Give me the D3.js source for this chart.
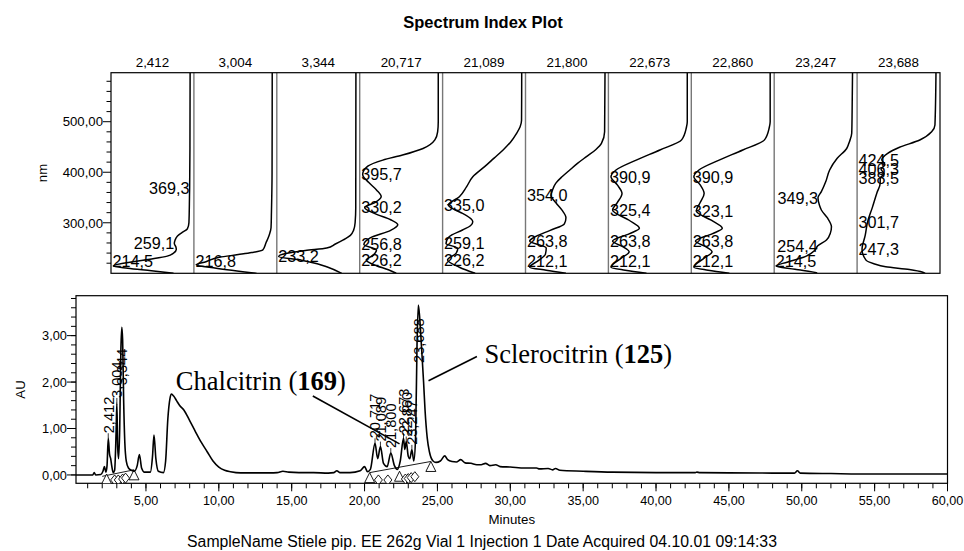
<!DOCTYPE html>
<html>
<head>
<meta charset="utf-8">
<script src="https://cdn.jsdelivr.net/npm/d3@7/dist/d3.min.js"></script>
<style>
  body { margin: 0; background: #fff; }
  svg { display: block; font-family: "Liberation Sans", Arial, sans-serif; }
</style>
</head>
<body>
<svg id="chart" width="964" height="551"></svg>
<script>
// ---------------- Spectrum index data (one spectrum per peak) ----------------
const panelTimes = ["2,412", "3,004", "3,344", "20,717", "21,089", "21,800", "22,673", "22,860", "23,247", "23,688"];

// each spectrum: [wavelength nm, relative absorbance 0..1]
const spec2412 = [[597,0.01],[450,0.012],[369.3,0.016],[350,0.018],[300,0.025],[288,0.045],[281,0.11],[274,0.17],[266,0.2],[259.1,0.21],[252,0.19],[247,0.185],[240,0.22],[234,0.3],[228,0.52],[221,0.82],[214.5,0.985],[210,0.8],[205,0.5],[200,0.22]];
const spec3004 = [[597,0.02],[400,0.022],[320,0.03],[290,0.035],[275,0.06],[260,0.1],[246,0.14],[241,0.28],[237,0.45],[231.7,0.69],[223,0.86],[216.8,0.985],[210,0.73],[200,0.22]];
const spec3344 = [[597,0.01],[330,0.012],[300,0.02],[285,0.04],[275,0.08],[266,0.17],[258,0.27],[250,0.38],[245,0.65],[239,0.9],[233.2,0.99],[226,0.7],[219,0.5],[213,0.38],[200,0.19]];
const spec20717 = [[597,0.017],[500,0.017],[480,0.025],[464,0.06],[447,0.21],[434,0.47],[424,0.72],[412,0.91],[395.7,0.975],[380,0.9],[365,0.8],[352,0.74],[340,0.82],[330.2,0.95],[318,0.82],[306,0.62],[296,0.53],[285,0.62],[270,0.88],[256.8,0.96],[246,0.8],[236,0.84],[226.2,0.93],[215,0.8],[207,0.65],[200,0.55]];
const spec21089 = [[597,0.01],[503,0.012],[490,0.03],[477,0.075],[460,0.15],[444,0.246],[428,0.36],[411,0.48],[391,0.63],[371,0.71],[351.6,0.8],[335.0,0.94],[325,0.85],[318.7,0.76],[302,0.63],[294,0.66],[285.7,0.76],[272.4,0.93],[259.1,0.97],[249.5,0.82],[240,0.84],[226.2,0.95],[212,0.8],[200,0.6]];
const spec21800 = [[597,0.005],[480,0.01],[457,0.05],[445,0.12],[431,0.24],[418,0.35],[404,0.455],[391,0.55],[378,0.63],[365,0.67],[354.0,0.69],[340,0.63],[325,0.55],[310,0.5],[298,0.52],[285,0.7],[273,0.88],[263.8,0.96],[250,0.75],[238,0.76],[225,0.85],[212.1,0.96],[206,0.75],[200,0.5]];
const spec22673 = [[597,0.013],[500,0.013],[488,0.025],[464,0.085],[444,0.36],[424,0.66],[404,0.92],[390.9,0.98],[375,0.9],[358,0.84],[340,0.9],[325.4,0.96],[305,0.75],[289,0.62],[278,0.75],[263.8,0.96],[252,0.82],[242.7,0.75],[230,0.85],[212.1,0.98],[206,0.8],[200,0.53]];
const spec22860 = [[597,0.013],[500,0.013],[488,0.025],[464,0.085],[444,0.36],[424,0.66],[404,0.92],[390.9,0.98],[375,0.9],[358,0.85],[340,0.9],[323.1,0.95],[305,0.76],[289,0.62],[278,0.75],[263.8,0.96],[252,0.82],[242.7,0.75],[230,0.85],[212.1,0.98],[206,0.8],[200,0.53]];
const spec23247 = [[597,0.02],[520,0.025],[477,0.03],[460,0.06],[447,0.094],[427.6,0.214],[404.4,0.31],[381,0.36],[361.5,0.415],[349.3,0.458],[335,0.44],[325.3,0.415],[310,0.34],[292,0.287],[280,0.3],[266,0.35],[254.4,0.46],[245,0.5],[233,0.62],[222,0.85],[214.5,0.99],[208,0.75],[201,0.48],[200,0.47]];
const spec23688 = [[597,0.013],[493.5,0.026],[480,0.068],[463.8,0.218],[449.4,0.475],[437.5,0.625],[424.5,0.7],[415,0.66],[406.3,0.71],[397,0.67],[388.5,0.72],[378,0.72],[360,0.76],[330,0.82],[301.7,0.88],[275,0.91],[247.3,0.95],[226,0.9],[219,0.8],[213,0.65],[207.5,0.35],[202,0.18],[200,0.15]];
const spectra = [spec2412, spec3004, spec3344, spec20717, spec21089, spec21800, spec22673, spec22860, spec23247, spec23688];

// labelled absorbance maxima of each spectrum (nm)
const spectrumMaxima = [
  [214.5, 259.1, 369.3],
  [216.8],
  [233.2],
  [226.2, 256.8, 330.2, 395.7],
  [226.2, 259.1, 335.0],
  [212.1, 263.8, 354.0],
  [212.1, 263.8, 325.4, 390.9],
  [212.1, 263.8, 323.1, 390.9],
  [214.5, 254.4, 349.3],
  [247.3, 301.7, 388.5, 406.3, 424.5]
];
const nmMajorTicks = [300, 400, 500];
const nmMinorTicks = [220, 240, 260, 280, 320, 340, 360, 380, 420, 440, 460, 480, 520, 540, 560, 580];

// ---------------- Chromatogram data ----------------
const chromTime = [0.2,1.0,1.35,1.45,1.55,1.9,2.05,2.15,2.25,2.33,2.412,2.5,2.58,2.65,2.75,2.85,2.95,3.004,3.06,3.12,3.2,3.28,3.344,3.40,3.47,3.55,3.65,3.8,4.0,4.2,4.4,4.55,4.7,4.9,5.3,5.45,5.55,5.68,5.85,6.2,6.35,6.5,6.65,6.75,6.9,7.1,7.3,7.6,8.0,8.4,8.8,9.2,9.6,10.0,10.4,10.8,11.5,12.5,13.5,14.0,14.4,14.8,15.5,16.5,17.5,17.9,18.1,18.3,19.0,19.7,20.0,20.2,20.4,20.717,20.9,21.089,21.3,21.55,21.8,22.05,22.25,22.45,22.673,22.76,22.86,23.0,23.1,23.247,23.38,23.5,23.6,23.688,23.78,23.9,24.05,24.15,24.3,24.45,24.7,24.9,25.2,25.5,25.7,26.0,26.3,26.6,26.9,27.3,27.7,28.0,28.3,28.6,29.0,29.3,30.0,31.0,31.8,32.0,32.6,32.9,33.1,33.4,35.0,37.0,40.0,42.7,42.8,43.0,45.0,48.0,49.5,49.7,49.9,52.0,55.0,60.0];
const chromAU   = [0.0,0.0,0.0,0.05,0.0,0.01,0.08,0.18,0.06,0.2,0.79,0.45,0.35,0.2,0.05,0.1,0.9,1.55,0.6,0.35,1.0,2.7,3.18,2.9,1.6,0.7,0.3,0.15,0.1,0.08,0.2,0.44,0.15,0.06,0.06,0.4,0.86,0.35,0.08,0.05,0.3,1.2,1.65,1.74,1.7,1.6,1.5,1.4,1.17,0.93,0.7,0.5,0.3,0.17,0.1,0.07,0.045,0.045,0.045,0.05,0.08,0.06,0.05,0.05,0.04,0.05,0.09,0.05,0.05,0.09,0.18,0.07,0.12,0.68,0.35,0.61,0.25,0.18,0.47,0.2,0.12,0.3,0.79,0.55,0.72,0.4,0.35,0.54,0.3,0.8,2.8,3.66,3.4,2.8,2.0,1.4,0.8,0.5,0.3,0.27,0.3,0.41,0.33,0.29,0.28,0.33,0.26,0.25,0.22,0.22,0.25,0.2,0.22,0.18,0.17,0.15,0.15,0.13,0.14,0.11,0.14,0.1,0.08,0.06,0.05,0.05,0.06,0.05,0.045,0.04,0.04,0.09,0.04,0.03,0.02,0.02];

const peakTimes = [2.412, 3.004, 3.344, 20.717, 21.089, 21.800, 22.673, 22.860, 23.247, 23.688];

// integration start/end marks and drop marks
const triangleMarks = [[2.3, 0.02], [4.18, 0.11], [20.35, 0.05], [22.4, 0.08], [24.55, 0.29]];
const diamondMarks = [[2.85, 0.0], [3.1, 0.0], [3.4, 0.02], [3.6, 0.04], [20.95, 0.0], [21.6, 0.0], [22.8, 0.02], [23.0, 0.03], [23.2, 0.05], [23.45, 0.07]];
const baselineSegments = [[[2.0, -0.03], [4.18, 0.11]], [[20.35, 0.05], [24.55, 0.29]]];

const auMajorTicks = [0, 1, 2, 3];
const minuteMajorTicks = [5, 10, 15, 20, 25, 30, 35, 40, 45, 50, 55, 60];

// compound annotations: text anchor, leader start, leader target (minutes, AU)
const annotations = [
  { name: "Chalcitrin", num: "169", at: [7.05, 1.83], from: [16.45, 1.70], to: [22.4, 0.67] },
  { name: "Sclerocitrin", num: "125", at: [28.23, 2.42], from: [27.71, 2.55], to: [24.39, 2.03] }
];

const footerText = "SampleName Stiele pip. EE 262g Vial 1 Injection 1 Date Acquired 04.10.01 09:14:33";

// ---------------- Drawing ----------------
const svg = d3.select("#chart");
const locale = d3.formatLocale({ decimal: ",", thousands: ".", grouping: [3], currency: ["", ""] });
const f2 = locale.format(".2f");

svg.append("text")
  .attr("x", 483).attr("y", 28)
  .attr("text-anchor", "middle")
  .attr("font-weight", "bold").attr("font-size", 16.5)
  .text("Spectrum Index Plot");

// ---- spectrum panels ----
const topBox = { left: 111, right: 940, top: 72.7, bottom: 273.3 };
const panelX = d3.scaleBand().domain(d3.range(panelTimes.length)).range([topBox.left, topBox.right]);
const nmY = d3.scaleLinear().domain([200, 597]).range([topBox.bottom, topBox.top]);
const bw = panelX.bandwidth();

// absorbance of a spectrum at a wavelength (linear between stored points)
function absAt(spec, nm) {
  for (let k = 0; k < spec.length - 1; k++) {
    const a = spec[k], b = spec[k + 1];
    if (nm <= a[0] && nm >= b[0]) {
      const f = a[0] === b[0] ? 0 : (a[0] - nm) / (a[0] - b[0]);
      return a[1] + f * (b[1] - a[1]);
    }
  }
  return spec[spec.length - 1][1];
}

const defs = svg.append("defs");
const specG = svg.append("g");

spectra.forEach((spec, i) => {
  const x0 = panelX(i);
  const absX = d3.scaleLinear().domain([0, 1]).range([x0 + bw - 3, x0 + 1]);
  defs.append("clipPath").attr("id", "pclip" + i)
    .append("rect").attr("x", x0).attr("y", topBox.top).attr("width", bw).attr("height", topBox.bottom - topBox.top);

  const g = specG.append("g");
  g.append("path")
    .datum(spec)
    .attr("clip-path", "url(#pclip" + i + ")")
    .attr("fill", "none").attr("stroke", "#000").attr("stroke-width", 1.5)
    .attr("d", d3.line().x(d => absX(d[1])).y(d => nmY(d[0])).curve(d3.curveMonotoneY));

  // panel retention time
  g.append("text")
    .attr("x", x0 + bw / 2).attr("y", 66.5)
    .attr("text-anchor", "middle").attr("font-size", 13.4)
    .text(panelTimes[i]);

  // labels of the absorbance maxima
  spectrumMaxima[i].forEach(nm => {
    const cx = absX(absAt(spec, nm));
    const cy = Math.min(nmY(nm), topBox.bottom - 12);
    const t = g.append("text")
      .attr("y", cy).attr("dy", "0.36em")
      .attr("font-size", 16.2)
      .text(locale.format(".1f")(nm));
    const w = t.node().getComputedTextLength();
    if (cx - w >= x0 + 2) t.attr("x", cx).attr("text-anchor", "end");
    else t.attr("x", x0 + 1.5).attr("text-anchor", "start");
  });

  // separator between panels
  if (i > 0) {
    specG.append("line")
      .attr("x1", x0).attr("x2", x0).attr("y1", topBox.top).attr("y2", topBox.bottom)
      .attr("stroke", "#777").attr("stroke-width", 1.4);
  }
});

specG.append("rect")
  .attr("x", topBox.left).attr("y", topBox.top)
  .attr("width", topBox.right - topBox.left).attr("height", topBox.bottom - topBox.top)
  .attr("fill", "none").attr("stroke", "#000").attr("stroke-width", 1.2);

// nm axis
const nmAxis = specG.append("g");
nmMinorTicks.forEach(v => {
  nmAxis.append("line").attr("x1", topBox.left - 4.5).attr("x2", topBox.left)
    .attr("y1", nmY(v)).attr("y2", nmY(v)).attr("stroke", "#000");
});
nmMajorTicks.forEach(v => {
  nmAxis.append("line").attr("x1", topBox.left - 8).attr("x2", topBox.left)
    .attr("y1", nmY(v)).attr("y2", nmY(v)).attr("stroke", "#000");
  nmAxis.append("text").attr("x", topBox.left - 8).attr("y", nmY(v)).attr("dy", "0.36em")
    .attr("text-anchor", "end").attr("font-size", 13.2).text(f2(v));
});
specG.append("text")
  .attr("transform", `translate(47,${(topBox.top + topBox.bottom) / 2}) rotate(-90)`)
  .attr("text-anchor", "middle").attr("font-size", 13.2).text("nm");

// ---- chromatogram ----
const box = { left: 76, right: 947.5, top: 295.7, bottom: 483.3 };
const x = d3.scaleLinear().domain([0.2, 60]).range([box.left, box.right]);
const y = d3.scaleLinear().domain([-0.18, 3.86]).range([box.bottom, box.top]);

defs.append("clipPath").attr("id", "cclip")
  .append("rect").attr("x", box.left).attr("y", box.top - 2).attr("width", box.right - box.left).attr("height", box.bottom - box.top + 2);

const chrom = svg.append("g");
chrom.append("rect")
  .attr("x", box.left).attr("y", box.top)
  .attr("width", box.right - box.left).attr("height", box.bottom - box.top)
  .attr("fill", "none").attr("stroke", "#000").attr("stroke-width", 1.2);

// integration baselines and marks
const plotArea = chrom.append("g").attr("clip-path", "url(#cclip)");
baselineSegments.forEach(s => {
  plotArea.append("line")
    .attr("x1", x(s[0][0])).attr("y1", y(s[0][1]))
    .attr("x2", x(s[1][0])).attr("y2", y(s[1][1]))
    .attr("stroke", "#000").attr("stroke-width", 0.9);
});
triangleMarks.forEach(([t, v]) => {
  const px = x(t), py = y(v);
  plotArea.append("path")
    .attr("d", `M${px},${py}L${px + 5},${py + 10}L${px - 5},${py + 10}Z`)
    .attr("fill", "#fff").attr("stroke", "#000").attr("stroke-width", 0.9);
});
diamondMarks.forEach(([t, v]) => {
  const px = x(t), py = y(v);
  plotArea.append("path")
    .attr("d", `M${px},${py}L${px + 4},${py + 5}L${px},${py + 10}L${px - 4},${py + 5}Z`)
    .attr("fill", "#fff").attr("stroke", "#000").attr("stroke-width", 0.9);
});

const trace = chromTime.map((t, i) => [t, chromAU[i]]);
plotArea.append("path")
  .datum(trace)
  .attr("fill", "none").attr("stroke", "#000").attr("stroke-width", 1.6)
  .attr("stroke-linejoin", "round")
  .attr("d", d3.line().x(d => x(d[0])).y(d => y(d[1])).curve(d3.curveMonotoneX));

// retention time labels: above the apex when there is room, otherwise dropped below it
const peakLabelGroup = chrom.append("g");
peakTimes.forEach(t => {
  const idx = chromTime.findIndex(v => Math.abs(v - t) < 1e-6);
  const apexY = y(chromAU[idx]);
  const px = x(t);
  const lbl = peakLabelGroup.append("text")
    .attr("font-size", 14.6)
    .text(locale.format(".3f")(t));
  const len = lbl.node().getComputedTextLength();
  let bottom = apexY - 5;
  if (bottom - len < box.top + 4) bottom = apexY + 58;
  lbl.attr("transform", `translate(${px},${bottom}) rotate(-90)`).attr("dy", "0.36em");
  if (bottom < apexY) {
    peakLabelGroup.append("line")
      .attr("x1", px).attr("x2", px).attr("y1", apexY).attr("y2", bottom)
      .attr("stroke", "#000").attr("stroke-width", 0.8);
  }
});

// y axis
const auAxis = chrom.append("g");
d3.range(0, 3.81, 0.2).forEach(v => {
  auAxis.append("line").attr("x1", box.left - 5).attr("x2", box.left)
    .attr("y1", y(v)).attr("y2", y(v)).attr("stroke", "#000");
});
auMajorTicks.forEach(v => {
  auAxis.append("line").attr("x1", box.left - 9).attr("x2", box.left)
    .attr("y1", y(v)).attr("y2", y(v)).attr("stroke", "#000");
  auAxis.append("text").attr("x", box.left - 9).attr("y", y(v)).attr("dy", "0.36em")
    .attr("text-anchor", "end").attr("font-size", 12.8).text(f2(v));
});
chrom.append("text")
  .attr("transform", `translate(25,${(box.top + box.bottom) / 2}) rotate(-90)`)
  .attr("text-anchor", "middle").attr("font-size", 13.2).text("AU");

// x axis
const minAxis = chrom.append("g");
d3.range(1, 61).forEach(v => {
  minAxis.append("line").attr("x1", x(v)).attr("x2", x(v))
    .attr("y1", box.bottom).attr("y2", box.bottom + 5).attr("stroke", "#000");
});
minuteMajorTicks.forEach(v => {
  minAxis.append("line").attr("x1", x(v)).attr("x2", x(v))
    .attr("y1", box.bottom).attr("y2", box.bottom + 8).attr("stroke", "#000");
  minAxis.append("text").attr("x", x(v)).attr("y", 500).attr("dy", "0.36em")
    .attr("text-anchor", "middle").attr("font-size", 12.6).text(f2(v));
});
chrom.append("text")
  .attr("x", (box.left + box.right) / 2).attr("y", 524)
  .attr("text-anchor", "middle").attr("font-size", 13.3).text("Minutes");

// compound annotations
annotations.forEach(a => {
  chrom.append("line")
    .attr("x1", x(a.from[0])).attr("y1", y(a.from[1]))
    .attr("x2", x(a.to[0])).attr("y2", y(a.to[1]))
    .attr("stroke", "#000").attr("stroke-width", 1.6);
  const t = chrom.append("text")
    .attr("x", x(a.at[0])).attr("y", y(a.at[1]))
    .attr("font-family", "'Liberation Serif','Times New Roman',serif")
    .attr("font-size", 26.5);
  t.append("tspan").text(a.name + " (");
  t.append("tspan").attr("font-weight", "bold").text(a.num);
  t.append("tspan").text(")");
});

svg.append("text")
  .attr("x", 482).attr("y", 547)
  .attr("text-anchor", "middle").attr("font-size", 15.8)
  .text(footerText);
</script>
</body>
</html>
